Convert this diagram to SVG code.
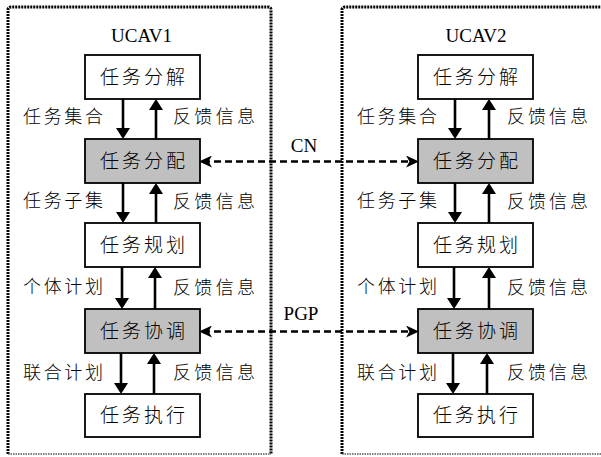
<svg xmlns="http://www.w3.org/2000/svg" width="601" height="457" viewBox="0 0 601 457">
<style>
.bg{fill:#ffffff}
.frame{fill:none;stroke:#000;stroke-width:3;stroke-dasharray:2 1}
.framebot{fill:none;stroke:#555;stroke-width:1.3;stroke-dasharray:1.5 1}
.box{fill:#ffffff;stroke:#000;stroke-width:1.8}
.shade{fill:#c0c0c0;stroke:#000;stroke-width:1.8}
.cjk{font-family:"Liberation Serif","Noto Sans CJK SC",serif;font-size:18px;fill:#000;font-weight:300}
.big{font-size:19px}
.lat{font-family:"Liberation Serif","Times New Roman",serif;font-size:19px;fill:#000}
.arr{fill:none;stroke:#000;stroke-width:2.6;marker-end:url(#ah)}
.dash{fill:none;stroke:#000;stroke-width:2.6;stroke-dasharray:7 4;marker-start:url(#dh);marker-end:url(#dh)}
</style>
<defs>
<marker id="ah" viewBox="0 0 11 14" refX="8" refY="7" markerWidth="11" markerHeight="14" markerUnits="userSpaceOnUse" orient="auto">
<path d="M0,0 L11,7 L0,14 z" fill="#000"/>
</marker>
<marker id="dh" viewBox="0 0 13 12" refX="9" refY="6" markerWidth="13" markerHeight="12" markerUnits="userSpaceOnUse" orient="auto-start-reverse">
<path d="M0,0 L13,6 L0,12 L3.5,6 z" fill="#000"/>
</marker>
</defs>
<rect class="bg" x="0" y="0" width="601" height="457"/>

<g id="ucav1">
<path class="frame" d="M8,454 L8,10 Q8,7 11,7 L268,7 Q271,7 271,10 L271,454"/>
<path class="framebot" d="M8,454 L271,454"/>
<text class="lat" x="141.5" y="42" text-anchor="middle">UCAV1</text>
</g>
<g id="ucav2">
<path class="frame" d="M342,454 L342,10 Q342,7 345,7 L610,7"/>
<path class="framebot" d="M342,454 L610,454"/>
<text class="lat" x="476" y="42" text-anchor="middle">UCAV2</text>
</g>

<g id="n1-decompose"><rect class="box" x="85" y="55" width="115" height="44"/><text class="cjk big" x="100" y="77" dominant-baseline="central" textLength="85" lengthAdjust="spacing">任务分解</text></g>
<g id="n1-allocate"><rect class="shade" x="85" y="139" width="115" height="44"/><text class="cjk big" x="100" y="161" dominant-baseline="central" textLength="85" lengthAdjust="spacing">任务分配</text></g>
<g id="n1-plan"><rect class="box" x="85" y="223" width="115" height="44"/><text class="cjk big" x="100" y="245" dominant-baseline="central" textLength="85" lengthAdjust="spacing">任务规划</text></g>
<g id="n1-coord"><rect class="shade" x="85" y="309" width="115" height="44"/><text class="cjk big" x="100" y="331" dominant-baseline="central" textLength="85" lengthAdjust="spacing">任务协调</text></g>
<g id="n1-exec"><rect class="box" x="85" y="394" width="115" height="43"/><text class="cjk big" x="100" y="415.5" dominant-baseline="central" textLength="85" lengthAdjust="spacing">任务执行</text></g>

<g id="n2-decompose"><rect class="box" x="418" y="55" width="115" height="44"/><text class="cjk big" x="433" y="77" dominant-baseline="central" textLength="85" lengthAdjust="spacing">任务分解</text></g>
<g id="n2-allocate"><rect class="shade" x="418" y="139" width="115" height="44"/><text class="cjk big" x="433" y="161" dominant-baseline="central" textLength="85" lengthAdjust="spacing">任务分配</text></g>
<g id="n2-plan"><rect class="box" x="418" y="223" width="115" height="44"/><text class="cjk big" x="433" y="245" dominant-baseline="central" textLength="85" lengthAdjust="spacing">任务规划</text></g>
<g id="n2-coord"><rect class="shade" x="418" y="309" width="115" height="44"/><text class="cjk big" x="433" y="331" dominant-baseline="central" textLength="85" lengthAdjust="spacing">任务协调</text></g>
<g id="n2-exec"><rect class="box" x="418" y="394" width="115" height="43"/><text class="cjk big" x="433" y="415.5" dominant-baseline="central" textLength="85" lengthAdjust="spacing">任务执行</text></g>

<g id="connectors">
<path class="arr" d="M123,99 L123,136"/>
<path class="arr" d="M156,139 L156,102"/>
<path class="arr" d="M123,183 L123,220"/>
<path class="arr" d="M156,223 L156,186"/>
<path class="arr" d="M122,267 L122,306"/>
<path class="arr" d="M155,309 L155,270"/>
<path class="arr" d="M121,353 L121,391"/>
<path class="arr" d="M154,394 L154,356"/>

<path class="arr" d="M455,99 L455,136"/>
<path class="arr" d="M489,139 L489,102"/>
<path class="arr" d="M455,183 L455,220"/>
<path class="arr" d="M489,223 L489,186"/>
<path class="arr" d="M454,267 L454,306"/>
<path class="arr" d="M489,309 L489,270"/>
<path class="arr" d="M453,353 L453,391"/>
<path class="arr" d="M487,394 L487,356"/>

<path class="dash" d="M203,161.5 L415,161.5"/>
<path class="dash" d="M203,331.5 L415,331.5"/>
<text class="lat" x="304" y="152" text-anchor="middle">CN</text>
<text class="lat" x="301" y="320" text-anchor="middle">PGP</text>

<text class="cjk" x="23" y="117" dominant-baseline="central" textLength="80" lengthAdjust="spacing">任务集合</text>
<text class="cjk" x="173" y="117" dominant-baseline="central" textLength="82" lengthAdjust="spacing">反馈信息</text>
<text class="cjk" x="23" y="201" dominant-baseline="central" textLength="80" lengthAdjust="spacing">任务子集</text>
<text class="cjk" x="173" y="202" dominant-baseline="central" textLength="82" lengthAdjust="spacing">反馈信息</text>
<text class="cjk" x="23" y="287" dominant-baseline="central" textLength="80" lengthAdjust="spacing">个体计划</text>
<text class="cjk" x="173" y="288" dominant-baseline="central" textLength="82" lengthAdjust="spacing">反馈信息</text>
<text class="cjk" x="23" y="373" dominant-baseline="central" textLength="80" lengthAdjust="spacing">联合计划</text>
<text class="cjk" x="173" y="373" dominant-baseline="central" textLength="82" lengthAdjust="spacing">反馈信息</text>

<text class="cjk" x="357" y="117" dominant-baseline="central" textLength="80" lengthAdjust="spacing">任务集合</text>
<text class="cjk" x="507" y="117" dominant-baseline="central" textLength="81" lengthAdjust="spacing">反馈信息</text>
<text class="cjk" x="357" y="201" dominant-baseline="central" textLength="80" lengthAdjust="spacing">任务子集</text>
<text class="cjk" x="507" y="202" dominant-baseline="central" textLength="81" lengthAdjust="spacing">反馈信息</text>
<text class="cjk" x="357" y="287" dominant-baseline="central" textLength="80" lengthAdjust="spacing">个体计划</text>
<text class="cjk" x="507" y="288" dominant-baseline="central" textLength="81" lengthAdjust="spacing">反馈信息</text>
<text class="cjk" x="357" y="373" dominant-baseline="central" textLength="80" lengthAdjust="spacing">联合计划</text>
<text class="cjk" x="507" y="373" dominant-baseline="central" textLength="81" lengthAdjust="spacing">反馈信息</text>
</g>
</svg>
